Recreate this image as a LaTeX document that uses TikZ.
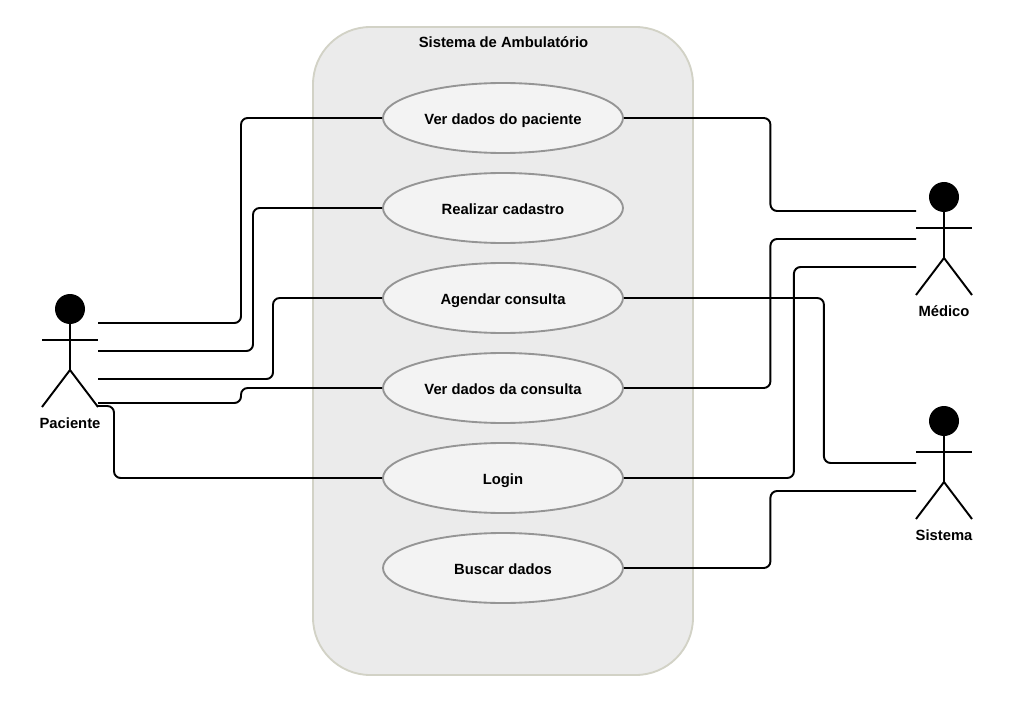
\documentclass[tikz,border=0pt]{standalone}
\usepackage{fontspec}
\setmainfont{Liberation Sans}
\usetikzlibrary{shapes.geometric}

\definecolor{sysfill}{HTML}{EBEBEB}
\definecolor{sysedge}{HTML}{D2D2C6}
\definecolor{casefill}{HTML}{F3F3F3}
\definecolor{caseedge}{HTML}{959595}
\newcommand\labelstyle{\fontsize{11.1}{13}\selectfont\bfseries}
\tikzset{
  usecase/.style={ellipse, draw=caseedge, line width=1.4pt, fill=casefill, inner sep=0pt,
    minimum width=180pt, minimum height=52.5pt, text height=10.6pt, text depth=0.4pt, font=\labelstyle},
  sysbox/.style={draw=sysedge, line width=1.4pt, fill=sysfill, rectangle, rounded corners=43pt,
    minimum width=285pt, minimum height=486pt},
  head/.style={circle, fill=black, inner sep=0pt, minimum size=22.5pt},
  actorline/.style={line width=1.45pt},
  link/.style={line width=1.45pt, rounded corners=5pt},
  caption/.style={inner sep=0pt, font=\labelstyle},
}
% head centre at (#2,#3)
\newcommand\actor[4]{
  \node[head] (#1head) at (#2, #3) {};
  \coordinate (#1arml) at (#2 - 28, #3 + 31);
  \coordinate (#1armr) at (#2 + 28, #3 + 31);
  \coordinate (#1hip) at (#2, #3 + 61);
  \coordinate (#1legl) at (#2 - 28, #3 + 98);
  \coordinate (#1legr) at (#2 + 28, #3 + 98);
  \draw[actorline] (#1head.south) -- (#1hip) ;
  \draw[actorline] (#1arml) -- (#1armr) ;
  \draw[actorline] (#1legl) -- (#1hip) -- (#1legr) ;
  \node[caption] (#1label) at (#2, #3 + 114) {#4};
}

\begin{document}
\begin{tikzpicture}[x=.75pt, y=-.75pt]
    \useasboundingbox (0, 0) rectangle (1020, 702);
    \node[sysbox] (system) at (503, 351) {};
    \node[caption] (systemtitle) at (503.5, 42) {Sistema de Ambulatório};
    \node[usecase] (verpaciente) at (503, 118) {Ver dados do paciente};
    \node[usecase] (cadastro) at (503, 208) {Realizar cadastro};
    \node[usecase] (agendar) at (503, 298) {Agendar consulta};
    \node[usecase] (verconsulta) at (503, 388) {Ver dados da consulta};
    \node[usecase] (login) at (503, 478) {Login};
    \node[usecase] (buscar) at (503, 568) {Buscar dados};
    \actor{paciente}{70}{309}{Paciente}
    \actor{medico}{944}{197}{Médico}
    \actor{sistema}{944}{421}{Sistema}
    % free ends beside the actors
    \coordinate (pacientea) at (98, 323);
    \coordinate (pacienteb) at (98, 351);
    \coordinate (pacientec) at (98, 379);
    \coordinate (pacienteg) at (98, 403);
    \coordinate (pacienteh) at (98, 406);
    \coordinate (medicoa) at (916, 211);
    \coordinate (medicob) at (916, 239);
    \coordinate (medicoc) at (916, 267);
    \coordinate (sistemaa) at (916, 463);
    \coordinate (sistemab) at (916, 491);
    % paciente
    \draw[link] (pacientea) -- ++(143, 0) |- (verpaciente.west) ;
    \draw[link] (pacienteb) -- ++(155, 0) |- (cadastro.west) ;
    \draw[link] (pacientec) -- ++(175, 0) |- (agendar.west) ;
    \draw[link] (pacienteg) -- ++(143, 0) |- (verconsulta.west) ;
    \draw[link] (pacienteh) -- ++(16, 0) |- (login.west) ;
    % medico
    \draw[link] (verpaciente.east) -- ++(146.5, 0) |- (medicoa) ;
    \draw[link] (verconsulta.east) -- ++(146.5, 0) |- (medicob) ;
    \draw[link] (login.east) -- ++(170, 0) |- (medicoc) ;
    % sistema
    \draw[link] (agendar.east) -- ++(200, 0) |- (sistemaa) ;
    \draw[link] (buscar.east) -- ++(146.5, 0) |- (sistemab) ;
\end{tikzpicture}
\end{document}
